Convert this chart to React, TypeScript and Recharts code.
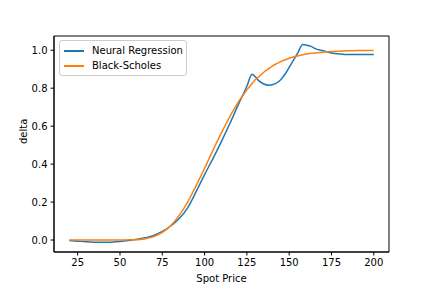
import React from 'react';
import { LineChart, Line, XAxis, YAxis, ReferenceArea } from 'recharts';

const spot = [
  20, 25, 30, 35, 40, 45, 50, 55, 60, 65, 70, 75, 80, 85, 90, 95, 100, 105, 110, 115, 120,
  125, 128, 130, 132, 135, 138, 140, 143, 145, 148, 150, 153, 155, 158, 160, 163, 165,
  170, 175, 180, 185, 190, 195, 200,
];
const neural = [
  -0.003, -0.006, -0.009, -0.011, -0.012, -0.011, -0.008, -0.003, 0.004, 0.012, 0.024, 0.045,
  0.074, 0.113, 0.17, 0.255, 0.345, 0.43, 0.52, 0.615, 0.715,
  0.81, 0.874, 0.86, 0.84, 0.822, 0.816, 0.818, 0.83, 0.845, 0.88, 0.91, 0.955, 0.985,
  1.03, 1.028, 1.02, 1.01, 0.997, 0.986, 0.98, 0.977, 0.977, 0.977, 0.977,
];
const blackScholes = [
  0, 0, 0, 0, 0, 0, 0, 0.001, 0.002, 0.007, 0.018, 0.04, 0.076, 0.13, 0.2, 0.287, 0.378,
  0.474, 0.566, 0.652, 0.728,
  0.791, 0.824, 0.844, 0.86, 0.884, 0.903, 0.916, 0.931, 0.94, 0.951, 0.958, 0.966, 0.97,
  0.976, 0.98, 0.984, 0.986, 0.99, 0.993, 0.995, 0.997, 0.998, 0.999, 0.999,
];
const xTicks = [25, 50, 75, 100, 125, 150, 175, 200];
const yTicks = [0, 0.2, 0.4, 0.6, 0.8, 1.0];
const seriesNames = ['Neural Regression', 'Black-Scholes'];
const seriesColors = ['#1f77b4', '#ff7f0e'];

const data = spot.map((s, i) => ({ spot: s, neural: neural[i], bs: blackScholes[i] }));

const X_DOMAIN: [number, number] = [11, 209];
const Y_DOMAIN: [number, number] = [-0.063, 1.075];

const font = 'DejaVu Sans, sans-serif';

function LegendBox() {
  return (
    <div
      style={{
        position: 'absolute',
        left: 59,
        top: 40,
        background: 'rgba(255,255,255,0.8)',
        border: '1px solid #cccccc',
        borderRadius: 3,
        padding: '2px 3px 2px 4px',
        fontFamily: font,
        fontSize: 10,
        color: '#000',
      }}
    >
      {seriesNames.map((name, i) => (
        <div key={name} style={{ display: 'flex', alignItems: 'center', height: 15 }}>
          <span style={{ width: 20, height: 2, background: seriesColors[i], marginRight: 8, display: 'inline-block' }} />
          <span>{name}</span>
        </div>
      ))}
    </div>
  );
}

export default function App() {
  return (
    <div style={{ position: 'absolute', left: 0, top: 0, width: 432, height: 288, background: '#fff' }}>
      <LineChart
        width={432}
        height={288}
        data={data}
        margin={{ top: 36, right: 43, bottom: 0, left: 14 }}
      >
        <XAxis
          dataKey="spot"
          type="number"
          domain={X_DOMAIN}
          ticks={xTicks}
          allowDataOverflow
          height={36}
          tickSize={3.5}
          tickMargin={3}
          stroke="#000"
          tick={{ fill: '#000', fontSize: 10, fontFamily: font }}
          label={{ value: 'Spot Price', position: 'insideBottom', offset: 6, fill: '#000', fontSize: 10, fontFamily: font }}
        />
        <YAxis
          type="number"
          domain={Y_DOMAIN}
          ticks={yTicks}
          allowDataOverflow
          width={40}
          tickSize={3.5}
          tickMargin={3}
          stroke="#000"
          tickFormatter={(v: number) => v.toFixed(1)}
          tick={{ fill: '#000', fontSize: 10, fontFamily: font }}
          label={{ value: 'delta', angle: -90, position: 'insideLeft', offset: 9, fill: '#000', fontSize: 10, fontFamily: font }}
        />
        <ReferenceArea
          x1={X_DOMAIN[0]}
          x2={X_DOMAIN[1]}
          y1={Y_DOMAIN[0]}
          y2={Y_DOMAIN[1]}
          fill="none"
          stroke="#000"
          strokeWidth={1}
        />
        <Line
          type="monotone"
          dataKey="neural"
          name={seriesNames[0]}
          stroke={seriesColors[0]}
          strokeWidth={1.5}
          dot={false}
          isAnimationActive={false}
        />
        <Line
          type="monotone"
          dataKey="bs"
          name={seriesNames[1]}
          stroke={seriesColors[1]}
          strokeWidth={1.5}
          dot={false}
          isAnimationActive={false}
        />
      </LineChart>
      <LegendBox />
    </div>
  );
}
